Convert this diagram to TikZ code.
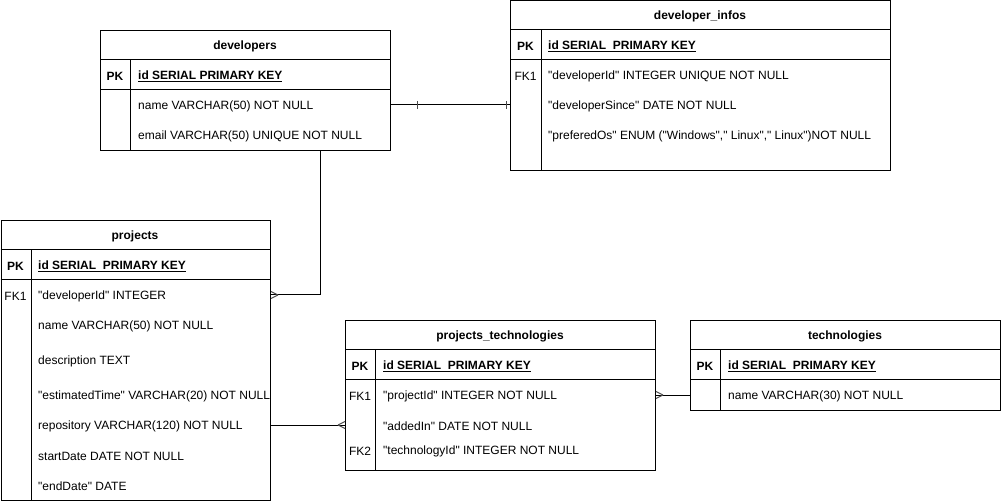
\documentclass[tikz,border=0pt]{standalone}
\usepackage{fontspec}
\setmainfont{Liberation Sans}
\newcommand{\q}{\textquotedbl}
\begin{document}
\begin{tikzpicture}[x=1pt,y=-1pt,
  tbl/.style={draw=black,line width=1pt,fill=white,inner sep=0pt},
  ln/.style={draw=black,line width=1pt},
  txt/.style={inner sep=0pt,yshift=-1.5pt},
  hdr/.style={txt,font=\fontsize{12}{14}\selectfont\bfseries},
  keylbl/.style={txt,font=\fontsize{12}{14}\selectfont\bfseries},
  fklbl/.style={txt,font=\fontsize{12}{14}\selectfont},
  pkrow/.style={txt,font=\fontsize{12}{14}\selectfont\bfseries,anchor=west},
  row/.style={txt,font=\fontsize{12}{14}\selectfont,anchor=west},
  conn/.style={draw=black,line width=1pt},
  ermark/.style={draw=black!70,line width=1pt}
]
\useasboundingbox (0,0) rectangle (1001,502);

% ---------- developers ----------
\node[tbl,minimum width=290pt,minimum height=120pt,anchor=north west] (dev) at (100,30) {};
\draw[ln] (100,60) -- (390,60);
\draw[ln] (100,90) -- (390,90);
\draw[ln] (130,60) -- (130,150);
\node[hdr] (devh) at (245,45) {developers};
\node[keylbl] (devpk) at (115,75) {PK};
\node[pkrow] (devid) at (138,75) {\underline{id SERIAL PRIMARY KEY}};
\node[row] (devname) at (138,105) {name VARCHAR(50) NOT NULL};
\node[row] (devemail) at (138,135) {email VARCHAR(50) UNIQUE NOT NULL};

% ---------- developer_infos ----------
\node[tbl,minimum width=380pt,minimum height=169.5pt,anchor=north west] (di) at (510,0.5) {};
\draw[ln] (510,30) -- (890,30);
\draw[ln] (510,60) -- (890,60);
\draw[ln] (541,30) -- (541,170);
\node[hdr] (dih) at (700,15) {developer\_infos};
\node[keylbl] (dipk) at (525.5,45) {PK};
\node[pkrow] (diid) at (548,45) {\underline{id SERIAL\ \ PRIMARY KEY}};
\node[fklbl] (difk) at (525.5,75) {FK1};
\node[row] (didev) at (548,75) {\q developerId\q{} INTEGER UNIQUE NOT NULL};
\node[row] (disince) at (548,105) {\q developerSince\q{} DATE NOT NULL};
\node[row] (dios) at (548,135) {\q preferedOs\q{} ENUM (\q Windows\q,\q{} Linux\q,\q{} Linux\q)NOT NULL};

% ---------- projects ----------
\node[tbl,minimum width=269.5pt,minimum height=280pt,anchor=north west] (pr) at (0.5,220) {};
\draw[ln] (0.5,250) -- (270,250);
\draw[ln] (0.5,280) -- (270,280);
\draw[ln] (31,250) -- (31,500);
\node[hdr] (prh) at (135,235) {projects};
\node[keylbl] (prpk) at (15.5,265) {PK};
\node[pkrow] (prid) at (38,265) {\underline{id SERIAL\ \ PRIMARY KEY}};
\node[fklbl] (prfk) at (15.5,295) {FK1};
\node[row] (prdev) at (38,295) {\q developerId\q{} INTEGER};
\node[row] (prname) at (38,325) {name VARCHAR(50) NOT NULL};
\node[row] (prdesc) at (38,360) {description TEXT};
\node[row] (prest) at (38,395) {\q estimatedTime\q{} VARCHAR(20) NOT NULL};
\node[row] (prrepo) at (38,425) {repository VARCHAR(120) NOT NULL};
\node[row] (prstart) at (38,455) {startDate DATE NOT NULL};
\node[row] (prend) at (38,485) {\q endDate\q{} DATE};

% ---------- projects_technologies ----------
\node[tbl,minimum width=310pt,minimum height=150pt,anchor=north west] (pt) at (345,320) {};
\draw[ln] (345,350) -- (655,350);
\draw[ln] (345,380) -- (655,380);
\draw[ln] (375,350) -- (375,470);
\node[hdr] (pth) at (500,335) {projects\_technologies};
\node[keylbl] (ptpk) at (360,365) {PK};
\node[pkrow] (ptid) at (383,365) {\underline{id SERIAL\ \ PRIMARY KEY}};
\node[fklbl] (ptfk1) at (360,395) {FK1};
\node[row] (ptproj) at (383,395) {\q projectId\q{} INTEGER NOT NULL};
\node[row] (ptadded) at (383,425) {\q addedIn\q{} DATE NOT NULL};
\node[fklbl] (ptfk2) at (360,450) {FK2};
\node[row] (pttech) at (383,450) {\q technologyId\q{} INTEGER NOT NULL};

% ---------- technologies ----------
\node[tbl,minimum width=310pt,minimum height=90pt,anchor=north west] (te) at (690,320) {};
\draw[ln] (690,350) -- (1000,350);
\draw[ln] (690,380) -- (1000,380);
\draw[ln] (720,350) -- (720,410);
\node[hdr] (teh) at (845,335) {technologies};
\node[keylbl] (tepk) at (705,365) {PK};
\node[pkrow] (teid) at (728,365) {\underline{id SERIAL\ \ PRIMARY KEY}};
\node[row] (tename) at (728,395) {name VARCHAR(30) NOT NULL};

% ---------- connectors ----------
% developers -- developer_infos (one to one)
\coordinate (c1a) at (dev.east |- 0,105);
\coordinate (c1b) at (di.west |- 0,105);
\draw[conn] (c1a) -- (c1b);
\draw[ermark] ([xshift=26pt]c1a) ++(0,-4) -- ++(0,8);
\draw[ermark] ([xshift=-3.5pt]c1b) ++(0,-4) -- ++(0,8);

% developers -- projects (one to many)
\coordinate (c2a) at (dev.south -| 320,0);
\coordinate (c2b) at (pr.east |- 0,295);
\draw[conn] (c2a) |- (c2b);
\draw[ermark] ([xshift=7pt]c2b) -- ++(-7,-3.5);
\draw[ermark] ([xshift=7pt]c2b) -- ++(-7,3.5);

% projects -- projects_technologies (one to many)
\coordinate (c3a) at (pr.east |- 0,425);
\coordinate (c3b) at (pt.west |- 0,425);
\draw[conn] (c3a) -- (c3b);
\draw[ermark] ([xshift=-7pt]c3b) -- ++(7,-3.5);
\draw[ermark] ([xshift=-7pt]c3b) -- ++(7,3.5);

% projects_technologies -- technologies (many to one)
\coordinate (c4a) at (pt.east |- 0,395);
\coordinate (c4b) at (te.west |- 0,395);
\draw[conn] (c4a) -- (c4b);
\draw[ermark] ([xshift=7pt]c4a) -- ++(-7,-3.5);
\draw[ermark] ([xshift=7pt]c4a) -- ++(-7,3.5);
\end{tikzpicture}
\end{document}
